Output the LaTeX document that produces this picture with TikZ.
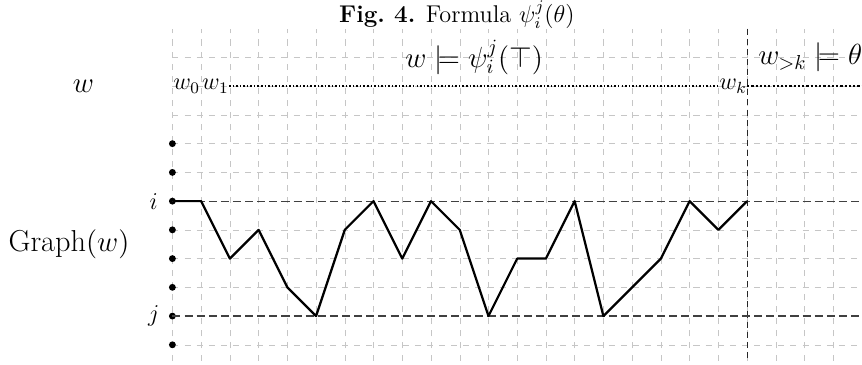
\documentclass[tikz,border=0pt]{standalone}
\begin{document}
\begin{tikzpicture}[x=0.5cm, y=0.5cm,
  gridline/.style={gray!45, dashed, very thin},
  level/.style={black!75, dash pattern=on 4pt off 2pt, semithick},
  letter/.style={inner sep=0pt, font=\large},
  dot/.style={circle, fill, inner sep=0pt, minimum size=3.4pt}]
\useasboundingbox (-6,-0.7) rectangle (24,12);
% background grid
\draw[gridline, step=0.5cm] (0,-0.55) grid (23.95,10.99);
% texts
\node[font=\large, inner sep=0.5pt] (title) at (9.9,11.48) {\textbf{Fig.~4.} Formula $\psi_i^j(\theta)$};
\node[font=\Large, inner sep=0.5pt] (pre) at (10.5,10) {$w \models \psi_i^j(\top)$};
\node[font=\Large, inner sep=0.5pt] (post) at (22.2,10) {$w_{>k} \models \theta$};
\node[font=\Large] (w) at (-3.1,9) {$w$};
\node[font=\fontsize{15}{18}\selectfont] (graph) at (-3.6,3.5) {Graph$(w)$};
% the word
\node[letter] (w0) at (0.5,9) {$w_0$};
\node[letter] (w1) at (1.5,9) {$w_1$};
\node[letter, anchor=east] (wk) at (20,9) {$w_k$};
\coordinate (wend) at (24,9);
\draw[densely dotted, line width=0.75pt] (w1) -- (wk);
\draw[densely dotted, line width=1.1pt] (wk.east) -- (wend);
% split at k
\coordinate (ktop) at (20,11);
\coordinate (kbot) at (20,-0.55);
\draw[densely dashed, black!85] (ktop) -- (kbot);
% levels
\foreach \r in {0,...,7}
  \node[dot] (d\r) at (0,\r) {};
\node[letter] (i) at (-0.65,5) {$i$};
\node[letter] (j) at (-0.65,1) {$j$};
\coordinate (iend) at (24,5);
\coordinate (jend) at (24,1);
\draw[level] (d5.center) -- (iend);
\draw[level] (d1.center) -- (jend);
% graph of w
\draw[line width=1.1pt, line join=round] plot coordinates {(0,5) (1,5) (2,3) (3,4) (4,2) (5,1) (6,4) (7,5) (8,3) (9,5) (10,4)
  (11,1) (12,3) (13,3) (14,5) (15,1) (16,2) (17,3) (18,5) (19,4) (20,5)};
\end{tikzpicture}
\end{document}
